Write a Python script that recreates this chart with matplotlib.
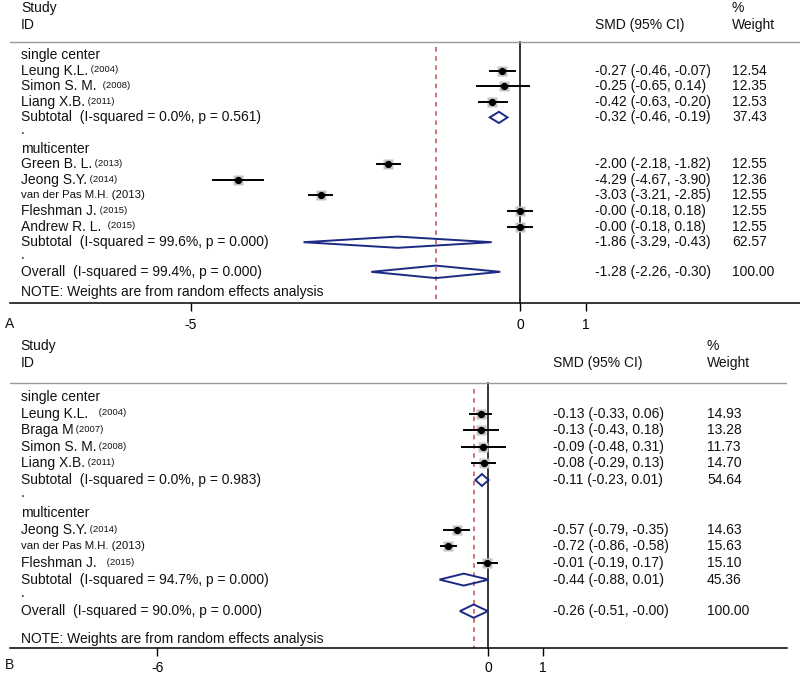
import matplotlib
matplotlib.use("Agg")
import matplotlib.pyplot as plt
from matplotlib.patches import Polygon
import numpy as np

plt.rcParams['font.family'] = ['Liberation Sans', 'DejaVu Sans']

# ---------------- Panel A data ----------------
a_groups = ["single center", "multicenter"]
a_names = ["Leung K.L.", "Simon S. M. ", "Liang X.B.", "Green B. L.", "Jeong S.Y.",
           "van der Pas M.H. (2013)", "Fleshman J.", "Andrew R. L. "]
a_years = ["(2004)", "(2008)", "(2011)", "(2013)", "(2014)", "", "(2015)", "(2015)"]
a_group_of = [0, 0, 0, 1, 1, 1, 1, 1]
a_smd = [-0.27, -0.25, -0.42, -2.00, -4.29, -3.03, -0.00, -0.00]
a_lo = [-0.46, -0.65, -0.63, -2.18, -4.67, -3.21, -0.18, -0.18]
a_hi = [-0.07, 0.14, -0.20, -1.82, -3.90, -2.85, 0.18, 0.18]
a_w = [12.54, 12.35, 12.53, 12.55, 12.36, 12.55, 12.55, 12.55]
a_sub_labels = ["Subtotal  (I-squared = 0.0%, p = 0.561)",
                "Subtotal  (I-squared = 99.6%, p = 0.000)"]
a_sub_smd = [-0.32, -1.86]
a_sub_lo = [-0.46, -3.29]
a_sub_hi = [-0.19, -0.43]
a_sub_w = [37.43, 62.57]
a_overall_label = "Overall  (I-squared = 99.4%, p = 0.000)"
a_overall = [-1.28, -2.26, -0.30, 100.00]
a_ticks = [-5, 0, 1]

# ---------------- Panel B data ----------------
b_groups = ["single center", "multicenter"]
b_names = ["Leung K.L.  ", "Braga M", "Simon S. M.", "Liang X.B.", "Jeong S.Y.",
           "van der Pas M.H. (2013)", "Fleshman J.  "]
b_years = ["(2004)", "(2007)", "(2008)", "(2011)", "(2014)", "", "(2015)"]
b_group_of = [0, 0, 0, 0, 1, 1, 1]
b_smd = [-0.13, -0.13, -0.09, -0.08, -0.57, -0.72, -0.01]
b_lo = [-0.33, -0.43, -0.48, -0.29, -0.79, -0.86, -0.19]
b_hi = [0.06, 0.18, 0.31, 0.13, -0.35, -0.58, 0.17]
b_w = [14.93, 13.28, 11.73, 14.70, 14.63, 15.63, 15.10]
b_sub_labels = ["Subtotal  (I-squared = 0.0%, p = 0.983)",
                "Subtotal  (I-squared = 94.7%, p = 0.000)"]
b_sub_smd = [-0.11, -0.44]
b_sub_lo = [-0.23, -0.88]
b_sub_hi = [0.01, 0.01]
b_sub_w = [54.64, 45.36]
b_overall_label = "Overall  (I-squared = 90.0%, p = 0.000)"
b_overall = [-0.26, -0.51, -0.00, 100.00]
b_ticks = [-6, 0, 1]

W, H = 800, 677
fig = plt.figure(figsize=(W / 100, H / 100), dpi=100)

FS = 10
FS_YEAR = 6.8
FS_SMALL = 8.2
NAVY = '#1c2a84'
RED = '#c0504d'
TXT = '#111111'


def fmt(e, l, h):
    return f"{e:.2f} ({l:.2f}, {h:.2f})"


def panel(rect_px, xlim, ylim, groups, names, years, group_of, smd, lo, hi, w,
          sub_labels, sub_smd, sub_lo, sub_hi, sub_w, ov_label, ov, ticks,
          col_smd, col_w, letter, note_off, hdr_rows, line_row, box_scale, tpad, letter_dy):
    x0, y0, x1, y1 = rect_px
    ax = fig.add_axes([x0 / W, 1 - y1 / H, (x1 - x0) / W, (y1 - y0) / H])
    ax.set_xlim(*xlim)
    ax.set_ylim(*ylim)
    for s in ['top', 'left', 'right']:
        ax.spines[s].set_visible(False)
    ax.spines['bottom'].set_linewidth(1.1)
    ax.set_yticks([])
    ax.set_xticks(ticks)
    ax.set_xticklabels([str(t) for t in ticks])
    ax.tick_params(axis='x', direction='out', length=6, width=1, labelsize=FS, pad=tpad)
    tr = ax.get_yaxis_transform()
    lx = 0.0139

    def txt(x, y, s, fs=FS):
        return ax.text(x, y, s, transform=tr, fontsize=fs, va='center', color=TXT)

    # headers
    txt(lx, hdr_rows[0], "Study")
    txt(lx, hdr_rows[1], "ID")
    txt(col_smd, hdr_rows[1], "SMD (95% CI)")
    txt(col_w, hdr_rows[0], "%")
    txt(col_w, hdr_rows[1], "Weight")
    ax.axhline(line_row, color='#9a9a9a', lw=1.0)

    row = 0
    for g, gname in enumerate(groups):
        txt(lx, row, gname)
        row += 1
        for i in range(len(names)):
            if group_of[i] != g:
                continue
            if years[i]:
                t = txt(lx, row, names[i])
                ax.annotate(" " + years[i], xy=(1, 0.55), xycoords=t, fontsize=FS_YEAR,
                            va='center', ha='left', color=TXT)
            else:
                txt(lx, row, names[i], FS_SMALL)
            ax.plot([lo[i], hi[i]], [row, row], color='black', lw=1.4, zorder=3)
            ax.plot(smd[i], row, marker='s', ms=box_scale * np.sqrt(w[i]),
                    color='#c4c4c4', mec='none', zorder=2)
            ax.plot(smd[i], row, marker='o', ms=4.2, color='black', zorder=4)
            txt(col_smd, row, fmt(smd[i], lo[i], hi[i]))
            txt(col_w, row, f"{w[i]:.2f}")
            row += 1
        txt(lx, row, sub_labels[g])
        dia = Polygon([[sub_lo[g], row], [sub_smd[g], row - 0.36], [sub_hi[g], row],
                       [sub_smd[g], row + 0.36]], closed=True, fill=False,
                      edgecolor=NAVY, lw=1.4, zorder=5)
        ax.add_patch(dia)
        txt(col_smd, row, fmt(sub_smd[g], sub_lo[g], sub_hi[g]))
        txt(col_w, row, f"{sub_w[g]:.2f}")
        row += 1
        txt(lx, row - 0.2, ".")
        row += 1
    row -= 1
    # overall
    ov_row = row + 0.9
    txt(lx, ov_row, ov_label)
    dia = Polygon([[ov[1], ov_row], [ov[0], ov_row - 0.4], [ov[2], ov_row],
                   [ov[0], ov_row + 0.4]], closed=True, fill=False,
                  edgecolor=NAVY, lw=1.4, zorder=5)
    ax.add_patch(dia)
    txt(col_smd, ov_row, fmt(ov[0], ov[1], ov[2]))
    txt(col_w, ov_row, f"{ov[3]:.2f}")
    txt(lx, ov_row + note_off, "NOTE: Weights are from random effects analysis")

    # reference lines
    ax.plot([0, 0], [line_row, ylim[0]], color='black', lw=1.1, zorder=1, clip_on=False)
    ax.plot([ov[0], ov[0]], [line_row + 0.35, ylim[0]], color=RED, lw=1.1,
            ls=(0, (3, 3)), zorder=1, clip_on=False)

    # panel letter
    fig.text(5 / W, 1 - (y1 + letter_dy) / H, letter, fontsize=FS, va='center', ha='left', color=TXT)
    return ax


# Panel A: pixel rect, row 0 at y=55px, row pitch 15.6px
pa_top, pa_bot, pa_r0, pa_pitch = 0, 303, 55, 15.6
panel((10, pa_top, 800, pa_bot),
      ((10 - 520) / 65.8, (800 - 520) / 65.8),
      ((pa_bot - pa_r0) / pa_pitch, (pa_top - pa_r0) / pa_pitch),
      a_groups, a_names, a_years, a_group_of, a_smd, a_lo, a_hi, a_w,
      a_sub_labels, a_sub_smd, a_sub_lo, a_sub_hi, a_sub_w, a_overall_label, a_overall,
      a_ticks, (595 - 10) / 790, (732 - 10) / 790, "A", 1.3,
      ((8 - pa_r0) / pa_pitch, (25 - pa_r0) / pa_pitch), (42 - pa_r0) / pa_pitch, 1.9,
      5, 21)

# Panel B
pb_top, pb_bot, pb_r0, pb_pitch = 335, 648, 397, 16.6
panel((10, pb_top, 787, pb_bot),
      ((10 - 488) / 55.1, (787 - 488) / 55.1),
      ((pb_bot - pb_r0) / pb_pitch, (pb_top - pb_r0) / pb_pitch),
      b_groups, b_names, b_years, b_group_of, b_smd, b_lo, b_hi, b_w,
      b_sub_labels, b_sub_smd, b_sub_lo, b_sub_hi, b_sub_w, b_overall_label, b_overall,
      b_ticks, (553 - 10) / 777, (707 - 10) / 777, "B", 1.65,
      ((346 - pb_r0) / pb_pitch, (363 - pb_r0) / pb_pitch), (383 - pb_r0) / pb_pitch, 1.9,
      3, 17)

fig.savefig("out.png", dpi=100, facecolor='white')
